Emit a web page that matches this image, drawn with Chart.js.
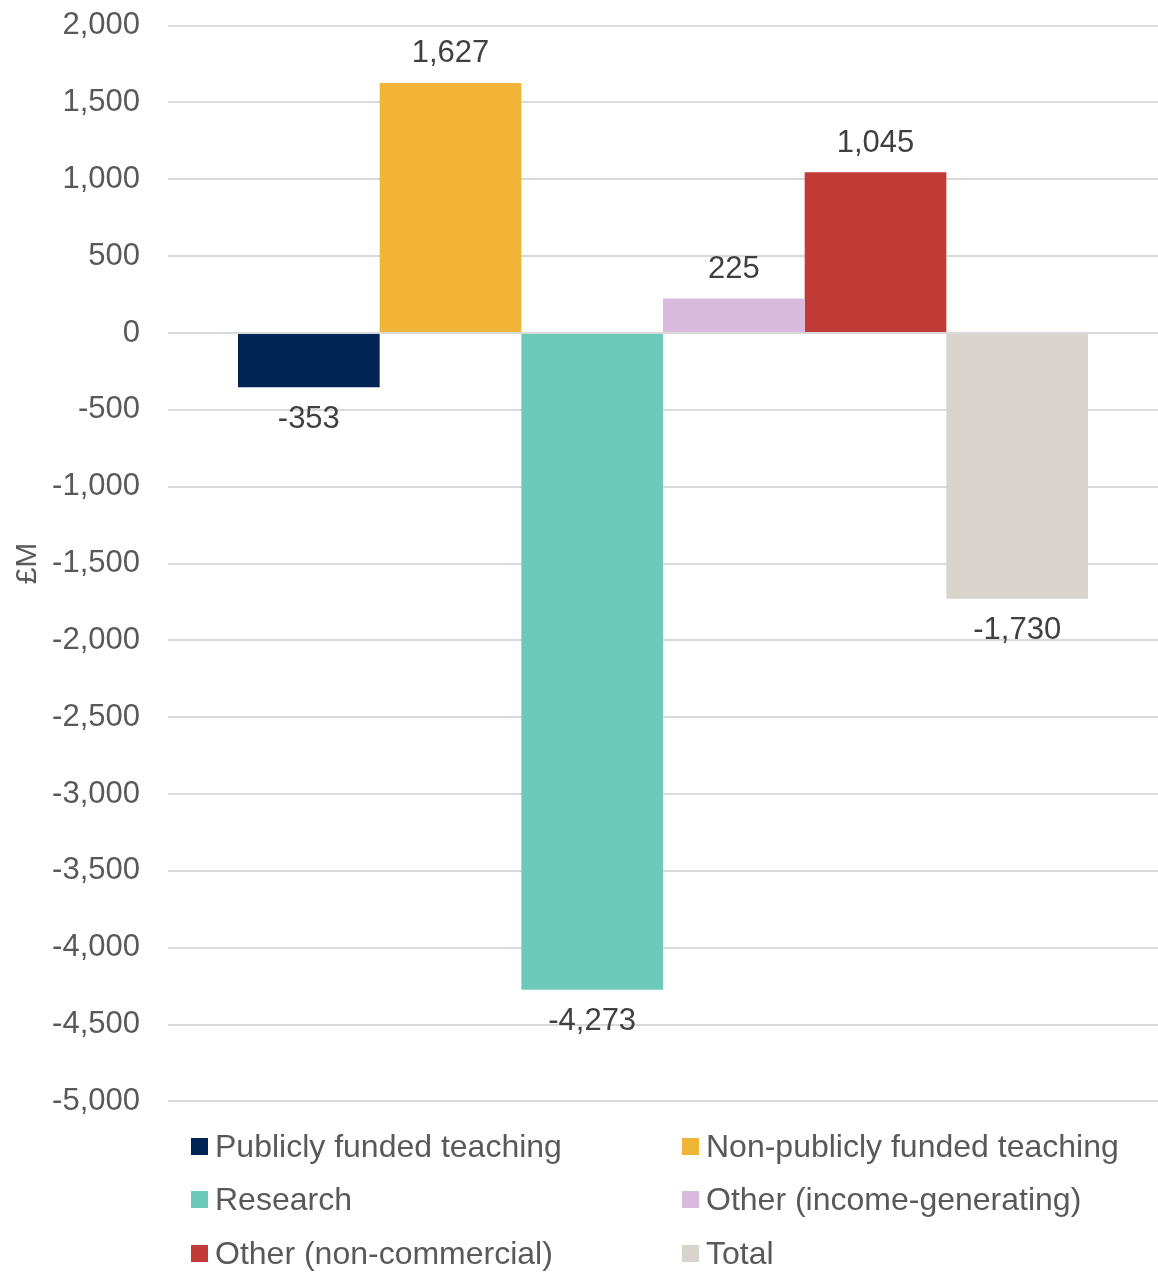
<!DOCTYPE html>
<html>
<head>
<meta charset="utf-8">
<script src="https://cdn.jsdelivr.net/npm/chart.js@4"></script>
<style>
  body { margin: 0; background: #fff; font-family: "Liberation Sans", Arial, sans-serif; overflow: hidden; }
  #wrap { position: relative; width: 1158px; height: 1273px; overflow: hidden; }
  #chart { position: absolute; left: 0; top: -21px; }
  #legend { position: absolute; left: 191px; top: 1122px; width: 960px;
            display: grid; grid-template-columns: 491px auto; grid-auto-rows: 53.5px; }
  .item { display: flex; align-items: center; font-size: 32px; color: #595959; height: 48px; white-space: nowrap; }
  .box { width: 17px; height: 17px; margin-right: 7px; flex: none; }
</style>
</head>
<body>
<div id="wrap">
  <canvas id="chart" width="1158" height="1169"></canvas>
  <div id="legend"></div>
</div>
<script>
const seriesNames = ['Publicly funded teaching', 'Non-publicly funded teaching', 'Research',
                     'Other (income-generating)', 'Other (non-commercial)', 'Total'];
const seriesValues = [-353, 1627, -4273, 225, 1045, -1730];
const seriesColors = ['#002554', '#F0B436', '#6DCABA', '#D9BBDD', '#C03A36', '#D8D3CD'];
const yMin = -5000, yMax = 2000, yStep = 500;

const fontFamily = '"Liberation Sans", Arial, sans-serif';

// value labels on the bar ends
const barLabels = {
  id: 'barLabels',
  afterDatasetsDraw(chart) {
    const ctx = chart.ctx;
    ctx.save();
    ctx.font = '31px ' + fontFamily;
    ctx.fillStyle = '#404040';
    ctx.textAlign = 'center';
    ctx.textBaseline = 'middle';
    chart.data.datasets.forEach((ds, i) => {
      const bar = chart.getDatasetMeta(i).data[0];
      const v = ds.data[0];
      const y = v >= 0 ? bar.y - 29 : bar.y + 32;
      ctx.fillText(v.toLocaleString('en-GB'), bar.x, y);
    });
    ctx.restore();
  }
};

const ctx = document.getElementById('chart').getContext('2d');
const myChart = new Chart(ctx, {
  type: 'bar',
  data: {
    labels: [''],
    datasets: seriesNames.map((n, i) => ({
      label: n,
      data: [seriesValues[i]],
      backgroundColor: seriesColors[i],
      borderWidth: 0,
      barPercentage: 1,
      categoryPercentage: 0.8586
    }))
  },
  options: {
    responsive: false,
    animation: false,
    layout: { padding: { top: 6, bottom: 0, left: 0, right: 0 } },
    plugins: { legend: { display: false }, tooltip: { enabled: false } },
    scales: {
      x: { display: false },
      y: {
        min: yMin,
        max: yMax,
        afterFit(scale) { scale.width = 168; },
        border: { display: false },
        grid: { color: '#d9d9d9', lineWidth: 2, drawTicks: false },
        ticks: {
          stepSize: yStep,
          padding: 28,
          color: '#595959',
          font: { family: fontFamily, size: 31 },
          callback: (v) => v.toLocaleString('en-GB')
        },
        title: {
          display: true,
          text: '£M',
          color: '#595959',
          padding: { top: 10, bottom: 0 },
          font: { family: fontFamily, size: 30 }
        }
      }
    }
  },
  plugins: [barLabels]
});

const legend = document.getElementById('legend');
seriesNames.forEach((n, i) => {
  const d = document.createElement('div');
  d.className = 'item';
  d.innerHTML = '<span class="box" style="background:' + seriesColors[i] + '"></span><span>' + n + '</span>';
  legend.appendChild(d);
});
</script>
</body>
</html>
